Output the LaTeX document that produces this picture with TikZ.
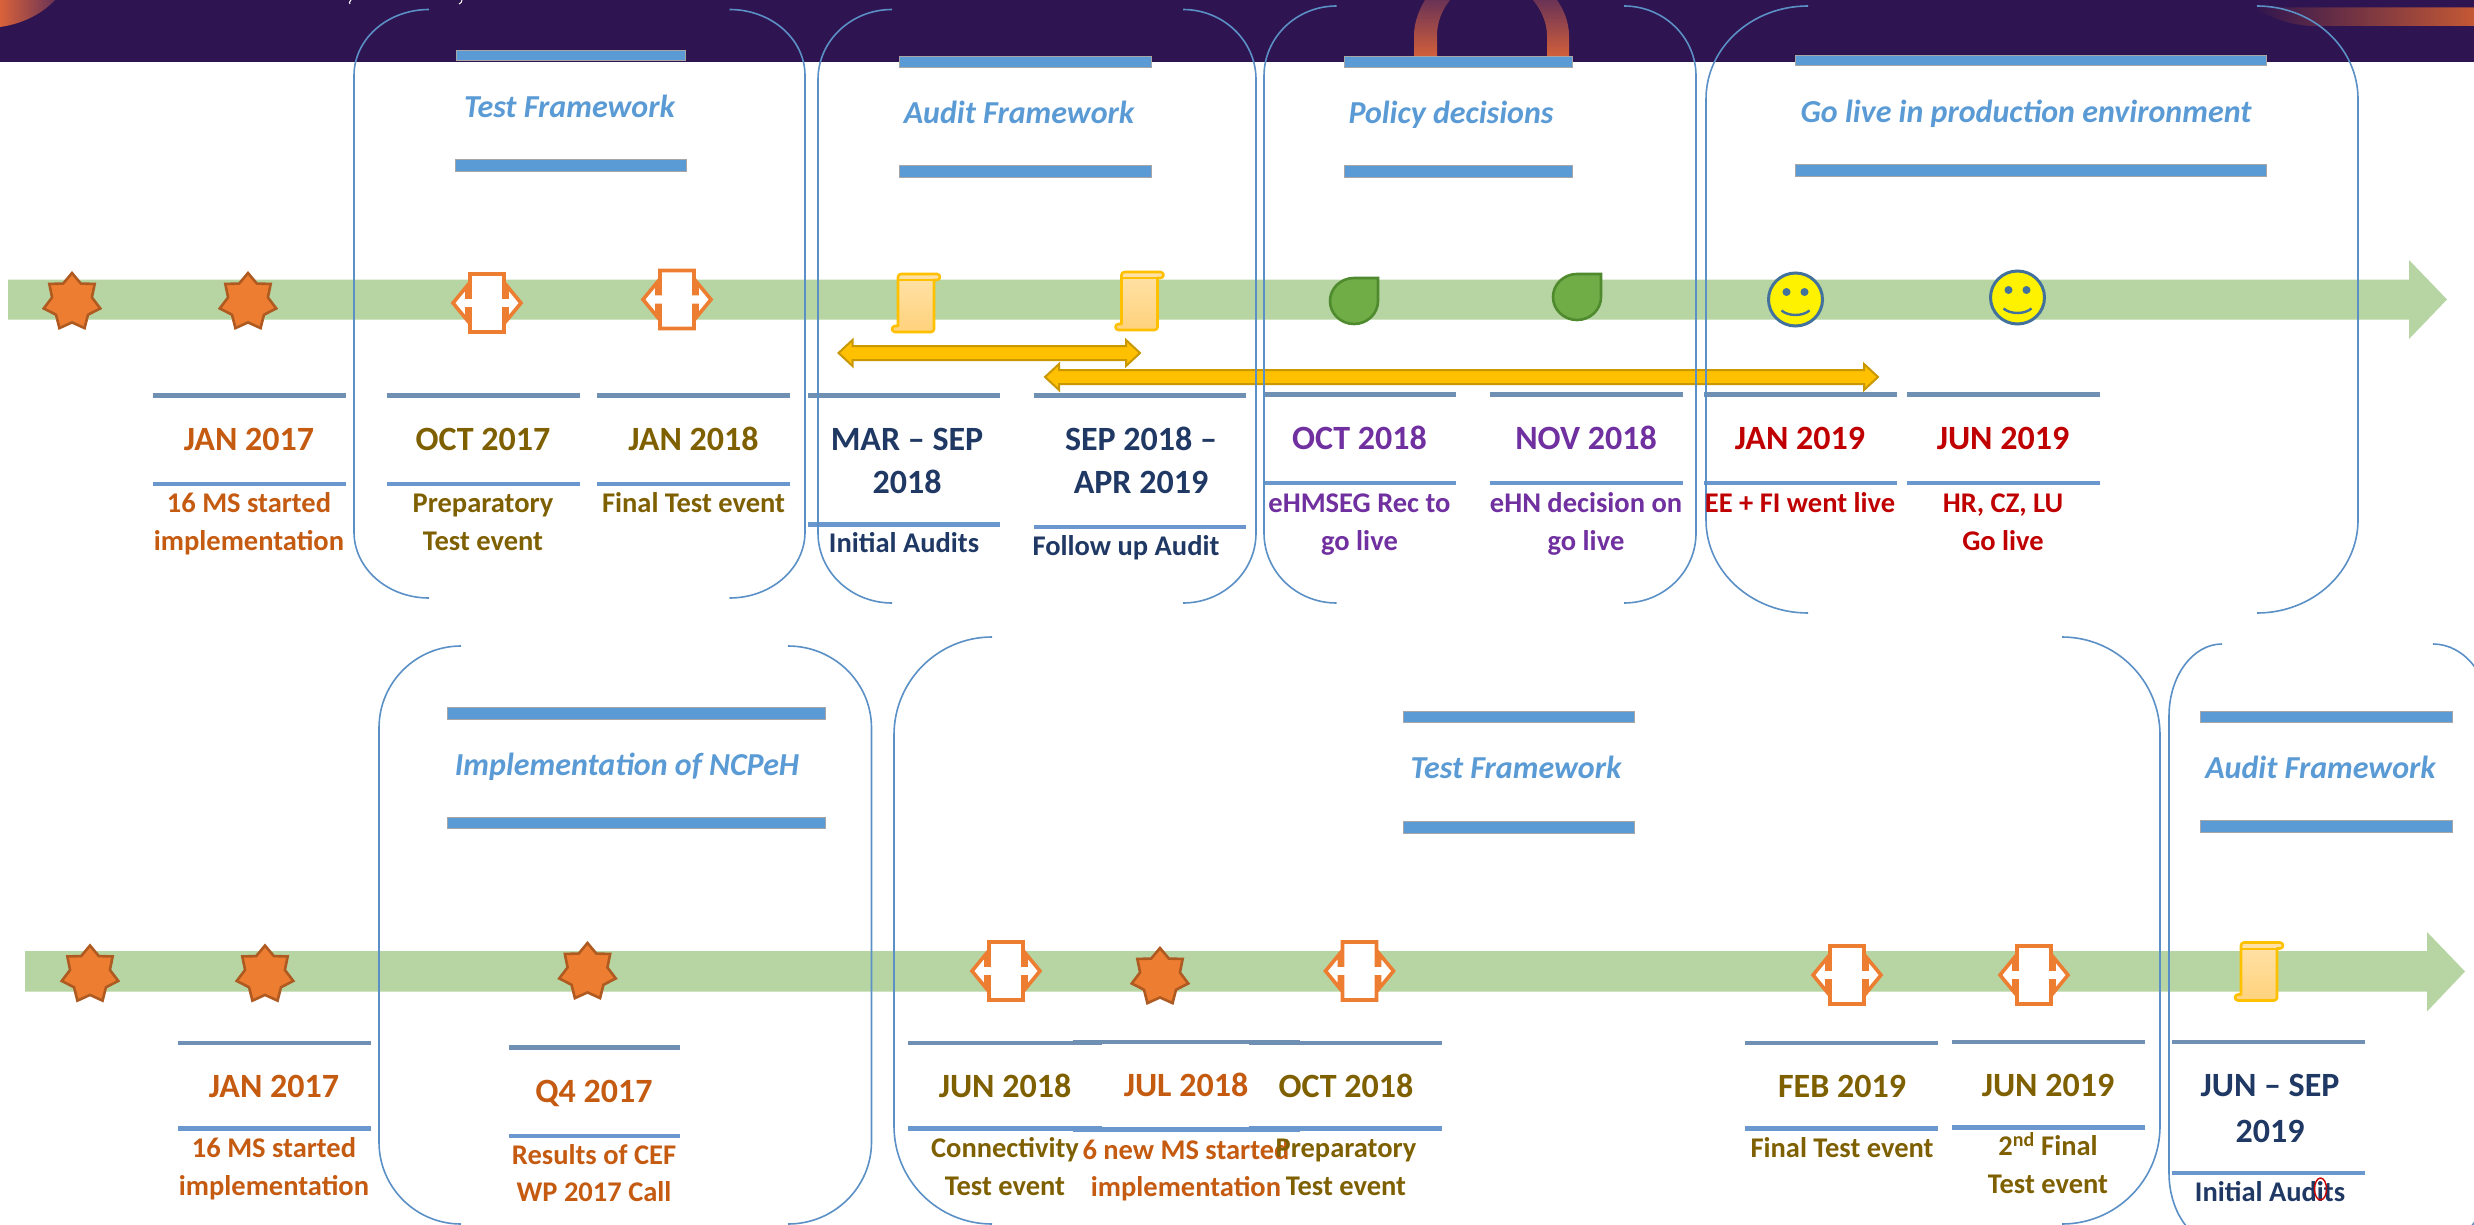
\documentclass[tikz,border=0pt]{standalone}
\usepackage{fontspec}
\setmainfont{Carlito}
\usetikzlibrary{shapes.geometric,calc}
\definecolor{hdr}{HTML}{2E1450}
\definecolor{greenbar}{HTML}{B6D5A2}
\definecolor{blueb}{HTML}{5B9BD5}
\definecolor{brkc}{HTML}{5B90C6}
\definecolor{lineA}{HTML}{6F8FB3}
\definecolor{lineB}{HTML}{6A98CE}
\definecolor{cOr}{HTML}{C55A11}
\definecolor{cOl}{HTML}{7F6000}
\definecolor{cNa}{HTML}{1F3864}
\definecolor{cPu}{HTML}{7030A0}
\definecolor{cRe}{HTML}{C00000}
\definecolor{evor}{HTML}{ED7D31}
\definecolor{evdk}{HTML}{AE5A21}
\definecolor{scrollA}{HTML}{FFE2A8}
\definecolor{scrollB}{HTML}{FFD27C}
\definecolor{gold}{HTML}{FFC000}
\definecolor{goldedge}{HTML}{C99700}
\definecolor{leaf}{HTML}{70AD47}
\definecolor{leafdk}{HTML}{4F8A2E}
\definecolor{smile}{HTML}{41719C}
\definecolor{glowA}{HTML}{D9623A}
\definecolor{glowB}{HTML}{6A3355}
\tikzset{
  bar/.style={fill=greenbar,draw=none},
  bluebar/.style={fill=blueb,draw=black!35,line width=.8pt},
  brk/.style={draw=brkc,line width=1.6pt},
  ttl/.style={inner sep=0pt,text=blueb,font=\fontsize{32}{38}\selectfont\bfseries\itshape,text height=20.5pt,text depth=0pt},
  dat/.style={inner sep=0pt,font=\fontsize{34}{40}\selectfont\bfseries,text height=21.8pt,text depth=0pt},
  dsc/.style={inner sep=0pt,font=\fontsize{28.5}{34}\selectfont\bfseries,text height=18.3pt,text depth=0pt},
  sepa/.style={line width=4.4pt,draw=lineA},
  sepb/.style={line width=4.4pt,draw=lineB},
  starmark/.style={star,star points=7,star point ratio=1.42,minimum size=58pt,inner sep=0pt,fill=evor,draw=evdk,line width=2.6pt},
  eventicon/.pic={
    \draw[fill=white,draw=evor,line width=3.6pt,line join=miter]
      (-17,-29) -- (17,-29) -- (17,-6) -- (20,-6) -- (20,-17) -- (34,0) -- (20,17) -- (20,6) -- (17,6) -- (17,29)
      -- (-17,29) -- (-17,6) -- (-20,6) -- (-20,17) -- (-34,0) -- (-20,-17) -- (-20,-6) -- (-17,-6) -- cycle;
  },
  scrollicon/.pic={
    \shade[top color=scrollA,bottom color=scrollB,draw=gold,line width=2.6pt,line join=round]
      (-15,-29) -- (21,-29) arc[start angle=-90,end angle=90,radius=3] -- (18,-23) -- (18,26)
      arc[start angle=0,end angle=90,radius=3] -- (-21,29) arc[start angle=90,end angle=270,radius=3]
      -- (-18,23) -- (-18,-26) arc[start angle=180,end angle=270,radius=3] -- cycle;
    \draw[draw=gold,line width=2pt] (-18,-23) -- (18,-23);
  },
  leaficon/.pic={
    \draw[fill=leaf,draw=leafdk,line width=2.6pt]
      (24,-23) -- (0,-23) arc[start angle=-90,end angle=-360,x radius=24,y radius=23] -- cycle;
  },
  smileyicon/.pic={
    \draw[fill=yellow,draw=smile,line width=3pt] (0,0) circle[x radius=27,y radius=26.5];
    \fill[smile] (-9,-7.5) circle[radius=4];
    \fill[smile] (9,-7.5) circle[radius=4];
    \draw[draw=smile,line width=2.4pt] (-14,11) .. controls (-7,17) and (7,17) .. (14,11);
  },
}
% #1 left x, #2 left arc end, #3 right arc end, #4 right x, #5 top, #6 bottom, #7 corner height
\newcommand{\bracketpair}[7]{%
  \draw[brk] (#2,#5) arc[start angle=-90,end angle=-180,x radius={#2-#1},y radius=#7]
    -- (#1,{#6-#7}) arc[start angle=180,end angle=90,x radius={#2-#1},y radius=#7];
  \draw[brk] (#3,#5) arc[start angle=-90,end angle=0,x radius={#4-#3},y radius=#7]
    -- (#4,{#6-#7}) arc[start angle=0,end angle=90,x radius={#4-#3},y radius=#7];
}
\newcommand{\goldarrow}[2]{%
  \draw[fill=gold,draw=goldedge,line width=2pt,line join=miter]
    (#1) -- ($(#1)+(14,-13)$) -- ($(#1)+(14,-7)$) -- ($(#2)+(-14,-7)$) -- ($(#2)+(-14,-13)$)
    -- (#2) -- ($(#2)+(-14,13)$) -- ($(#2)+(-14,7)$) -- ($(#1)+(14,7)$) -- ($(#1)+(14,13)$) -- cycle;
}
\begin{document}
\begin{tikzpicture}[x=1pt,y=-1pt]
\useasboundingbox (0,0) rectangle (2474,1225);
\clip (0,0) rectangle (2474,1225);
\fill[white] (0,0) rectangle (2474,1225);
% header
\fill[hdr] (0,0) rectangle (2474,62);
\shade[left color=glowA,right color=glowB] (0,0) -- (55,0) .. controls (42,14) and (22,24) .. (0,27) -- cycle;
\shade[top color=glowB,bottom color=glowA]
  (1414,60) -- (1414,36) .. controls (1414,22) and (1419,10) .. (1425,0) -- (1450,0)
  .. controls (1442,10) and (1437,22) .. (1437,36) -- (1437,60) -- cycle;
\shade[top color=glowB,bottom color=glowA]
  (1569,60) -- (1569,36) .. controls (1569,22) and (1564,10) .. (1557,0) -- (1533,0)
  .. controls (1541,10) and (1547,22) .. (1547,36) -- (1547,60) -- cycle;
\shade[left color=hdr,right color=glowA!90!black] (2250,4) .. controls (2268,7) and (2275,7) .. (2285,7.5)
  -- (2474,7.5) -- (2474,26) -- (2310,26) .. controls (2285,24) and (2265,16) .. (2250,4) -- cycle;
\draw[white,line width=1pt] (351,0) .. controls (349,2) and (349,3) .. (350,4);
\draw[white,line width=1pt] (462,0) .. controls (462,2) and (461,3) .. (459,4);
% timeline bars
\fill[bar] (8,279.5) -- (2409,279.5) -- (2409,260) -- (2447,299.5) -- (2409,339) -- (2409,319.5) -- (8,319.5) -- cycle;
\fill[bar] (25,951) -- (2427,951) -- (2427,932) -- (2465,971.5) -- (2427,1011.5) -- (2427,991.5) -- (25,991.5) -- cycle;
% title bars
\fill[bluebar] (456,50.5) rectangle (685.5,60.5);
\fill[bluebar] (455,159) rectangle (686.5,171);
\fill[bluebar] (899,56.5) rectangle (1151,67);
\fill[bluebar] (899,165) rectangle (1151,177);
\fill[bluebar] (1344,56.5) rectangle (1572,67);
\fill[bluebar] (1344,165) rectangle (1572,177);
\fill[bluebar] (1795.5,55) rectangle (2266,65);
\fill[bluebar] (1795,164.5) rectangle (2266,176);
\fill[bluebar] (447,707) rectangle (825.5,719);
\fill[bluebar] (447,817) rectangle (825.5,828.5);
\fill[bluebar] (1403,711) rectangle (1634.5,722.5);
\fill[bluebar] (1403,821.5) rectangle (1634.5,833.5);
\fill[bluebar] (2200,711) rectangle (2452.5,722.5);
\fill[bluebar] (2200,820.5) rectangle (2452.5,832);
% gold arrows
\coordinate (ga1l) at (838.5,353);
\coordinate (ga1r) at (1140,353);
\coordinate (ga2l) at (1045,377);
\coordinate (ga2r) at (1878,377);
\goldarrow{ga1l}{ga1r}
\goldarrow{ga2l}{ga2r}
% separators
\foreach \a/\b/\y/\s in {
 152.5/345.5/395.5/sepa,152.5/345.5/484/sepb,386.5/579.5/395.5/sepa,386.5/579.5/484/sepb,
 596.5/790/395.5/sepa,596.5/790/484/sepb,808/1000/395.5/sepa,808/1000/524.5/sepb,
 1033.5/1245.5/395.5/sepa,1033.5/1245.5/527/sepb,1263.5/1455.5/394.5/sepa,1263.5/1455.5/483/sepb,
 1489.5/1682.5/394.5/sepa,1489.5/1682.5/483/sepb,1703.5/1897/394.5/sepa,1703.5/1897/483/sepb,
 1906.5/2100/394.5/sepa,1906.5/2100/483/sepb,
 177.5/370.5/1043/sepa,177.5/370.5/1128.5/sepb,508.5/680/1047.5/sepa,508.5/680/1136/sepb,
 908/1102/1043/sepa,908/1102/1128.5/sepb,1073/1299.5/1042/sepa,1073/1299.5/1129.5/sepb,
 1248.5/1442/1043/sepa,1248.5/1442/1128.5/sepb,1744.5/1938/1043/sepa,1744.5/1938/1128.5/sepb,
 1951.5/2145/1042/sepa,1951.5/2145/1127.5/sepb,2171.5/2365/1042/sepa,2171.5/2365/1173/sepb}
  {\draw[\s] (\a,\y) -- (\b,\y);}
% brackets
\bracketpair{354}{429}{729.5}{805}{9.5}{598}{66}
\bracketpair{818}{892}{1183}{1256}{9.5}{603}{70}
\bracketpair{1264}{1336.5}{1624}{1696}{6}{603}{70}
\bracketpair{1706}{1808}{2257}{2358}{6}{613}{93}
\bracketpair{379}{461}{788}{871.5}{646}{1224}{82}
\bracketpair{894}{992}{2062}{2160}{637}{1224}{98}
\bracketpair{2169}{2222}{2433}{2490}{644}{1245}{72}
% stars
\node[starmark] (st1) at (72,302) {};
\node[starmark] (st2) at (248,302) {};
\node[starmark] (st3) at (90,974.5) {};
\node[starmark] (st4) at (265,974.5) {};
\node[starmark] (st5) at (587.5,972) {};
\node[starmark] (st6) at (1160,977) {};
% event icons
\pic at (487,303) {eventicon};
\pic at (677,299.5) {eventicon};
\pic at (1006,971) {eventicon};
\pic at (1359.5,971) {eventicon};
\pic at (1847,975) {eventicon};
\pic at (2034,975) {eventicon};
% scrolls
\pic at (916,303) {scrollicon};
\pic at (1139.5,301) {scrollicon};
\pic at (2259,971.5) {scrollicon};
% leaves
\pic at (1354,301) {leaficon};
\pic at (1577,297) {leaficon};
% smileys
\pic at (1795.5,299.5) {smileyicon};
\pic at (2017.5,297.5) {smileyicon};
% titles
\node[ttl] (t1) at (569.5,107) {Test Framework};
\node[ttl] (t2) at (1019,113) {Audit Framework};
\node[ttl] (t3) at (1451,113) {Policy decisions};
\node[ttl] (t4) at (2026,112) {Go live in production environment};
\node[ttl] (t5) at (627,765) {Implementation of NCPeH};
\node[ttl] (t6) at (1516,768.5) {Test Framework};
\node[ttl] (t7) at (2320.5,768) {Audit Framework};
% upper row
\node[dat,text=cOr] (a1) at (249,440) {JAN 2017};
\node[dsc,text=cOr] (a1a) at (249,503.5) {16 MS started};
\node[dsc,text=cOr] (a1b) at (249,541.5) {implementation};
\node[dat,text=cOl] (a2) at (483,440) {OCT 2017};
\node[dsc,text=cOl] (a2a) at (483,503.5) {Preparatory};
\node[dsc,text=cOl] (a2b) at (483,541.5) {Test event};
\node[dat,text=cOl] (a3) at (693.5,440) {JAN 2018};
\node[dsc,text=cOl] (a3a) at (693.5,503.5) {Final Test event};
\node[dat,text=cNa] (a4) at (907,440) {MAR – SEP};
\node[dat,text=cNa] (a4b) at (907,483) {2018};
\node[dsc,text=cNa] (a4c) at (904,543.5) {Initial Audits};
\node[dat,text=cNa] (a5) at (1141,440) {SEP 2018 –};
\node[dat,text=cNa] (a5b) at (1141,483) {APR 2019};
\node[dsc,text=cNa] (a5c) at (1126,546.5) {Follow up Audit};
\node[dat,text=cPu] (a6) at (1359.5,439) {OCT 2018};
\node[dsc,text=cPu] (a6a) at (1359.5,503) {eHMSEG Rec to};
\node[dsc,text=cPu] (a6b) at (1359.5,541) {go live};
\node[dat,text=cPu] (a7) at (1586,439) {NOV 2018};
\node[dsc,text=cPu] (a7a) at (1586,503) {eHN decision on};
\node[dsc,text=cPu] (a7b) at (1586,541) {go live};
\node[dat,text=cRe] (a8) at (1800,439) {JAN 2019};
\node[dsc,text=cRe] (a8a) at (1800,503) {EE + FI went live};
\node[dat,text=cRe] (a9) at (2003,439) {JUN 2019};
\node[dsc,text=cRe] (a9a) at (2003,503) {HR, CZ, LU};
\node[dsc,text=cRe] (a9b) at (2003,541) {Go live};
% lower row
\node[dat,text=cOr] (b1) at (274,1087) {JAN 2017};
\node[dsc,text=cOr] (b1a) at (274,1148) {16 MS started};
\node[dsc,text=cOr] (b1b) at (274,1186) {implementation};
\node[dat,text=cOr] (b2) at (594,1092) {Q4 2017};
\node[dsc,text=cOr] (b2a) at (594,1155) {Results of CEF};
\node[dsc,text=cOr] (b2b) at (594,1192) {WP 2017 Call};
\node[dat,text=cOl] (b3) at (1005,1087) {JUN 2018};
\node[dsc,text=cOl] (b3a) at (1005,1148) {Connectivity};
\node[dsc,text=cOl] (b3b) at (1005,1186) {Test event};
\node[dat,text=cOr] (b4) at (1186,1086) {JUL 2018};
\node[dsc,text=cOr] (b4a) at (1186,1150) {6 new MS started};
\node[dsc,text=cOr] (b4b) at (1186,1187) {implementation};
\node[dat,text=cOl] (b5) at (1346,1087) {OCT 2018};
\node[dsc,text=cOl] (b5a) at (1346,1148) {Preparatory};
\node[dsc,text=cOl] (b5b) at (1346,1186) {Test event};
\node[dat,text=cOl] (b6) at (1842,1087) {FEB 2019};
\node[dsc,text=cOl] (b6a) at (1842,1148) {Final Test event};
\node[dat,text=cOl] (b7) at (2048,1086) {JUN 2019};
\node[dsc,text=cOl] (b7a) at (2048,1146.5) {2\textsuperscript{nd} Final};
\node[dsc,text=cOl] (b7b) at (2048,1184.5) {Test event};
\node[dat,text=cNa] (b8) at (2270,1086) {JUN – SEP};
\node[dat,text=cNa] (b8b) at (2270,1131.5) {2019};
\node[dsc,text=cNa] (b8c) at (2270,1192) {Initial Audits};
\draw[draw=red!80!black,line width=1.4pt] (2320.5,1189) circle[x radius=6,y radius=11];
\end{tikzpicture}
\end{document}
